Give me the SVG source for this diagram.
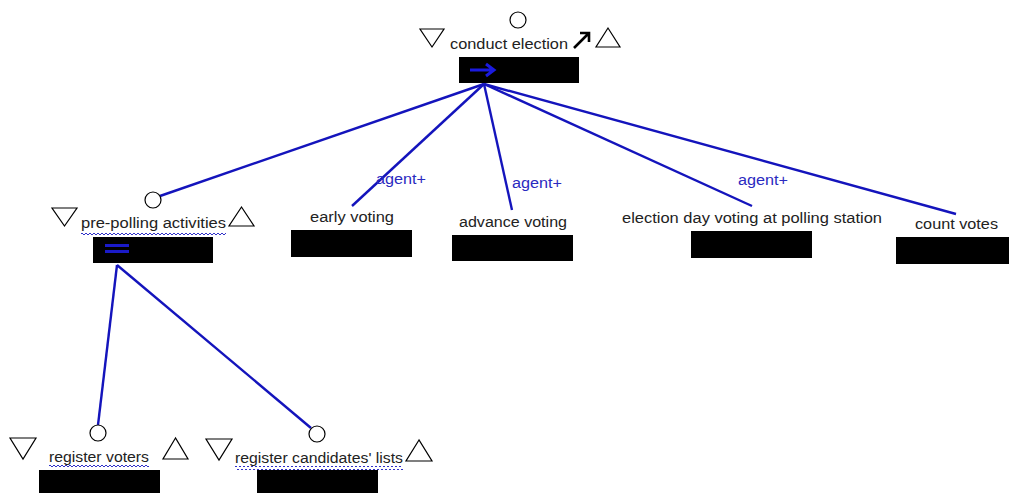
<svg xmlns="http://www.w3.org/2000/svg" width="1009" height="493" viewBox="0 0 1009 493">
<style>
.t{font-family:"Liberation Sans",Arial,sans-serif;font-size:14px;fill:#222}
.a{font-family:"Liberation Sans",Arial,sans-serif;font-size:14px;fill:#2a2ac0}
.box{fill:#000}
.tri{fill:#fff;stroke:#000;stroke-width:1.2}
.c{fill:#fff;stroke:#000;stroke-width:1.2}
.ln{stroke:#1414bc;stroke-width:2.4;fill:none}
</style>
<defs>
<pattern id="wave" width="4" height="4" patternUnits="userSpaceOnUse">
<path d="M0 3 L2 1 L4 3" stroke="#3030c8" stroke-width="1" fill="none"/>
</pattern>
</defs>
<rect width="1009" height="493" fill="#fff"/>
<g id="connectors">
<line class="ln" x1="484" y1="84" x2="160" y2="196"/>
<line class="ln" x1="484" y1="84" x2="352" y2="206"/>
<line class="ln" x1="484" y1="84" x2="512" y2="210"/>
<line class="ln" x1="484" y1="84" x2="752" y2="206"/>
<line class="ln" x1="484" y1="84" x2="956" y2="214"/>
<line class="ln" x1="117" y1="265" x2="98" y2="425"/>
<line class="ln" x1="117" y1="265" x2="311" y2="428"/>
<text class="a" x="376" y="184" textLength="50" lengthAdjust="spacingAndGlyphs">agent+</text>
<text class="a" x="512" y="188" textLength="50" lengthAdjust="spacingAndGlyphs">agent+</text>
<text class="a" x="738" y="185" textLength="50" lengthAdjust="spacingAndGlyphs">agent+</text>
</g>
<g id="conduct-election">
<circle class="c" cx="518" cy="20" r="8"/>
<polygon class="tri" points="420,29 444,29 432,47"/>
<text class="t" x="450" y="49" textLength="118" lengthAdjust="spacingAndGlyphs">conduct election</text>
<path d="M574 48 L588 34 M580 33 L589 33 L589 42" stroke="#000" stroke-width="2.6" fill="none"/>
<polygon class="tri" points="608,28 596,47 620,47"/>
<rect class="box" x="459" y="57" width="120" height="26"/>
<path d="M470 70 L492 70 M486 64 L494 70 L486 76" stroke="#1a1ae0" stroke-width="3" fill="none"/>
</g>
<g id="pre-polling-activities">
<circle class="c" cx="153" cy="200" r="8"/>
<polygon class="tri" points="52,208 77,208 64.5,226"/>
<text class="t" x="81" y="228" textLength="145" lengthAdjust="spacingAndGlyphs">pre-polling activities</text>
<rect x="81" y="231" width="145" height="4" fill="url(#wave)"/>
<polygon class="tri" points="241.5,207 229,226 254,226"/>
<rect class="box" x="93" y="237" width="120" height="26"/>
<rect x="105" y="244" width="24" height="3" fill="#1a1ac8"/>
<rect x="105" y="250" width="24" height="3" fill="#1a1ac8"/>
</g>
<g id="early-voting">
<text class="t" x="310" y="222" textLength="84" lengthAdjust="spacingAndGlyphs">early voting</text>
<rect class="box" x="291" y="230" width="121" height="27"/>
</g>
<g id="advance-voting">
<text class="t" x="459" y="227" textLength="108" lengthAdjust="spacingAndGlyphs">advance voting</text>
<rect class="box" x="452" y="235" width="121" height="26"/>
</g>
<g id="election-day-voting">
<text class="t" x="622" y="223" textLength="260" lengthAdjust="spacingAndGlyphs">election day voting at polling station</text>
<rect class="box" x="691" y="231" width="121" height="27"/>
</g>
<g id="count-votes">
<text class="t" x="915" y="229" textLength="83" lengthAdjust="spacingAndGlyphs">count votes</text>
<rect class="box" x="896" y="237" width="113" height="27"/>
</g>
<g id="register-voters">
<circle class="c" cx="98" cy="433" r="8"/>
<polygon class="tri" points="10,438 36,438 23,459"/>
<text class="t" x="49" y="462" textLength="100" lengthAdjust="spacingAndGlyphs">register voters</text>
<rect x="49" y="465" width="100" height="4" fill="url(#wave)"/>
<polygon class="tri" points="175.5,438 163,459 188,459"/>
<rect class="box" x="39" y="470" width="121" height="23"/>
</g>
<g id="register-candidates-lists">
<circle class="c" cx="317" cy="434" r="8"/>
<polygon class="tri" points="206,439 232,439 219,460"/>
<text class="t" x="235" y="463" textLength="168" lengthAdjust="spacingAndGlyphs">register candidates' lists</text>
<rect x="235" y="466" width="168" height="4" fill="url(#wave)"/>
<polygon class="tri" points="419,440 406,461 432,461"/>
<rect class="box" x="257" y="470" width="121" height="23"/>
</g>
</svg>
